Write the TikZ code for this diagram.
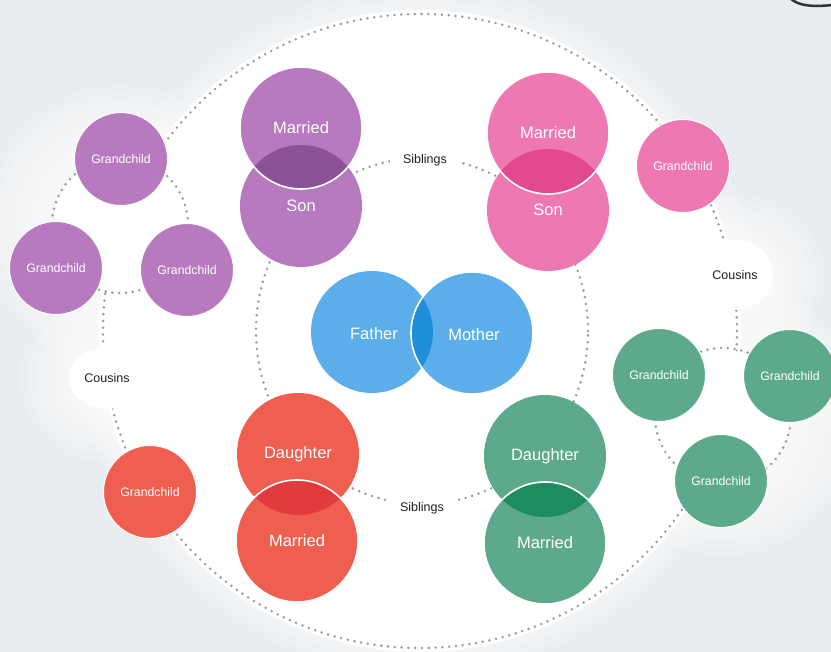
\documentclass[tikz,border=0pt]{standalone}
\usepackage{fontspec}
\setmainfont{Liberation Sans}
\usetikzlibrary{shapes.geometric}
\definecolor{bgc}{HTML}{E9EDF0}
\definecolor{pur}{HTML}{B77ABE}
\definecolor{purd}{HTML}{8C5298}
\definecolor{pnk}{HTML}{EE78B2}
\definecolor{pnkd}{HTML}{E2498F}
\definecolor{blu}{HTML}{5CAEEA}
\definecolor{blud}{HTML}{1F8FD9}
\definecolor{redc}{HTML}{EE5F50}
\definecolor{redd}{HTML}{E33B3D}
\definecolor{grn}{HTML}{5CAA8B}
\definecolor{grnd}{HTML}{1F8C60}
\definecolor{dotc}{HTML}{999C9F}
\begin{document}
\begin{tikzpicture}[x=1pt,y=-1pt,
  dotline/.style={dotc, line width=2.8pt, line cap=round, dash pattern=on 0pt off 6.8pt},
  couple/.style={circle, minimum size=122pt, inner sep=0pt, text=white, font=\fontsize{16.5}{18}\selectfont},
  grand/.style={circle, minimum size=93pt, inner sep=0pt, text=white, font=\fontsize{12.3}{14}\selectfont, draw=white, line width=1pt},
  sib/.style={fill=white, text=black!88, font=\fontsize{12.5}{14}\selectfont, inner xsep=13pt, inner ysep=6pt},
  cous/.style={ellipse, fill=white, text=black!88, font=\fontsize{12.5}{14}\selectfont},
  halo/.style={white, opacity=0.14},
  topline/.style={white, line width=1.6pt}
]
\useasboundingbox (0,0) rectangle (831,652);
\fill[bgc] (0,0) rectangle (831,652);

% centres of the dotted rings
\coordinate (O) at (420,331);
\coordinate (I) at (422,331);
\coordinate (GL) at (120,225);
\coordinate (GR) at (723,416);

% soft white halos
\foreach \r in {140,132,124,116,108,100,92,84} {
  \fill[halo] (GL) circle[radius=\r pt];
  \fill[halo] (GR) circle[radius=\r pt];
}
\foreach \r in {84,76,68,60,54,48,44,40} {
  \fill[halo] (740,278) circle[radius=\r pt];
  \fill[halo] (104,378) circle[radius=\r pt];
}
\foreach \r in {345,338,331,326} {\fill[halo] (O) circle[radius=\r pt];}

% white disc
\fill[white] (O) circle[radius=321pt];

% outer dotted ring
\draw[dotline] (O) circle[radius=317pt];

% grandchild group rings
\fill[white] (GL) circle[radius=66pt];
\fill[white] (GR) circle[radius=66pt];
\draw[dotline] (GL) circle[radius=68pt];
\draw[dotline] (GR) circle[radius=68pt];

% inner dotted ring
\draw[dotline] (I) ellipse[x radius=166pt, y radius=173pt];

% labels on the rings
\node[sib] (sibT) at (425,160) {Siblings};
\node[sib] (sibB) at (422,508) {Siblings};
\node[cous, minimum width=76pt, minimum height=62pt] (cousL) at (107,378) {Cousins};
\node[cous, minimum width=76pt, minimum height=70pt] (cousR) at (735,275) {Cousins};

% purple couple
\node[couple, fill=pur] (sonP) at (301,206) {Son};
\node[couple, fill=pur] (marP) at (301,128) {Married};
\begin{scope}
  \clip (sonP.center) circle[radius=61pt];
  \fill[purd] (marP.center) circle[radius=61pt];
\end{scope}
\draw[topline] (marP.center) circle[radius=61pt];

% pink couple
\node[couple, fill=pnk] (sonK) at (548,210) {Son};
\node[couple, fill=pnk] (marK) at (548,133) {Married};
\begin{scope}
  \clip (sonK.center) circle[radius=61pt];
  \fill[pnkd] (marK.center) circle[radius=61pt];
\end{scope}
\draw[topline] (marK.center) circle[radius=61pt];

% blue parents
\node[couple, fill=blu] (father) at (372,332) {};
\node[couple, fill=blu] (mother) at (472,333) {};
\begin{scope}
  \clip (father.center) circle[radius=61pt];
  \fill[blud] (mother.center) circle[radius=61pt];
\end{scope}
\draw[topline] (mother.center) circle[radius=61pt];
\node[text=white, font=\fontsize{16.5}{18}\selectfont] (fatherT) at (374,334) {Father};
\node[text=white, font=\fontsize{16.5}{18}\selectfont] (motherT) at (474,335) {Mother};

% red couple
\node[couple, fill=redc] (dauR) at (298,454) {Daughter};
\node[couple, fill=redc] (marR) at (297,541) {Married};
\begin{scope}
  \clip (dauR.center) circle[radius=61pt];
  \fill[redd] (marR.center) circle[radius=61pt];
\end{scope}
\draw[topline] (marR.center) circle[radius=61pt];

% green couple
\node[couple, fill=grn] (dauG) at (545,456) {Daughter};
\node[couple, fill=grn] (marG) at (545,543) {Married};
\begin{scope}
  \clip (dauG.center) circle[radius=61pt];
  \fill[grnd] (marG.center) circle[radius=61pt];
\end{scope}
\draw[topline] (marG.center) circle[radius=61pt];

% grandchildren
\node[grand, fill=pur] (gp1) at (121,159) {Grandchild};
\node[grand, fill=pur] (gp2) at (56,268) {Grandchild};
\node[grand, fill=pur] (gp3) at (187,270) {Grandchild};
\node[grand, fill=pnk] (gk1) at (683,166) {Grandchild};
\node[grand, fill=redc] (gr1) at (150,492) {Grandchild};
\node[grand, fill=grn] (gg1) at (659,375) {Grandchild};
\node[grand, fill=grn] (gg2) at (790,376) {Grandchild};
\node[grand, fill=grn] (gg3) at (721,481) {Grandchild};

% page corner mark
\draw[black!80, line width=2.5pt] (790,-2) .. controls (798,6) and (812,7) .. (833,5);
\end{tikzpicture}
\end{document}
